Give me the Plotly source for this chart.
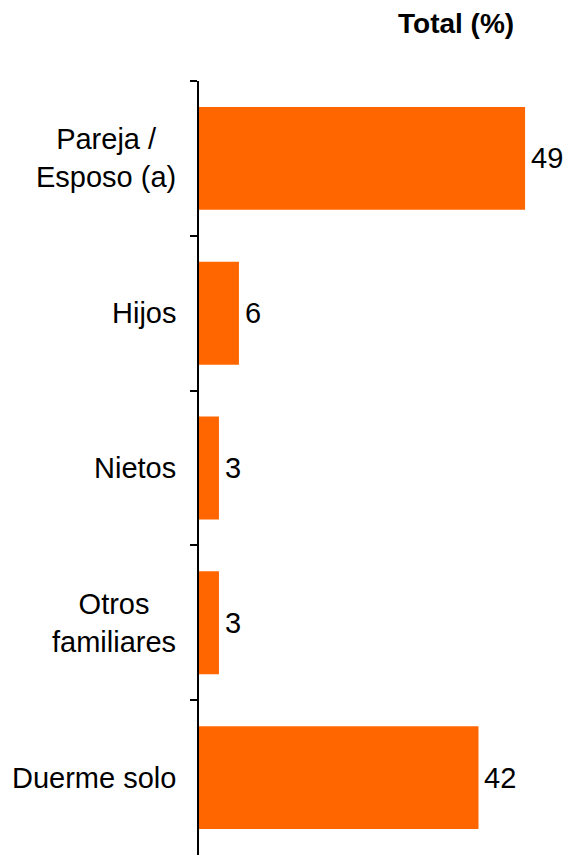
import plotly.graph_objects as go

# Data
categories = ["Pareja /<br>Esposo (a)", "Hijos", "Nietos", "Otros<br>familiares", "Duerme solo"]
values = [49, 6, 3, 3, 42]
chart_title = "Total (%)"

FONT = "Arial, Liberation Sans, sans-serif"
ORANGE = "#FF6600"
SIZE = 29

fig = go.Figure()

fig.add_trace(go.Bar(
    y=categories, x=values, orientation="h",
    marker=dict(color=ORANGE, line=dict(width=0)),
    hoverinfo="skip",
))

# category labels, centred lines like the original
for cat in categories:
    fig.add_annotation(
        x=0, xref="paper", y=cat, yref="y", text=cat,
        xanchor="right", yanchor="middle", align="center", xshift=-21,
        showarrow=False, font=dict(family=FONT, size=SIZE, color="black"),
    )

# value labels just past the bar ends
for cat, v in zip(categories, values):
    fig.add_annotation(
        x=v, xref="x", y=cat, yref="y", text=str(v),
        xanchor="left", yanchor="middle", xshift=4,
        showarrow=False, font=dict(family=FONT, size=SIZE, color="black"),
    )

fig.add_annotation(
    x=0.866, xref="paper", y=1, yref="paper", yshift=58,
    text=f"<b>{chart_title}</b>", xanchor="right", yanchor="middle",
    showarrow=False, font=dict(family=FONT, size=SIZE - 1, color="black"),
)

fig.update_yaxes(
    autorange="reversed", showticklabels=False,
    showline=True, linecolor="black", linewidth=1.5,
    ticks="outside", tickson="boundaries", ticklen=7,
    tickcolor="black", tickwidth=1.5, showgrid=False, zeroline=False,
)
fig.update_xaxes(range=[0, 55], visible=False, showgrid=False, zeroline=False)

fig.update_layout(
    width=567, height=856,
    margin=dict(l=199, r=2, t=81, b=1),
    plot_bgcolor="white", paper_bgcolor="white",
    bargap=0.335, showlegend=False,
    font=dict(family=FONT, size=SIZE, color="black"),
)

# drop the default page margin so the figure sits at the window origin
fig.write_html("out.html",
               config={"displayModeBar": False},
               post_script="document.body.style.margin='0';document.body.style.overflow='hidden';")
